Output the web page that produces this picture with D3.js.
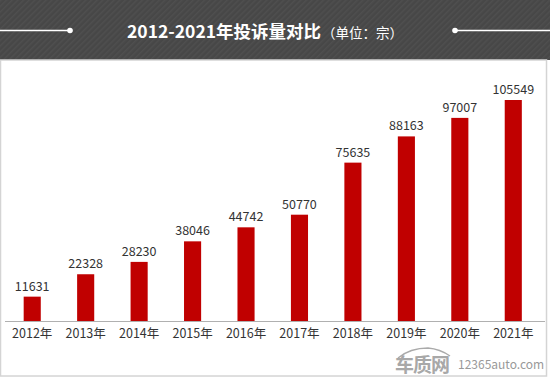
<!DOCTYPE html>
<html><head><meta charset="utf-8">
<script src="https://cdn.jsdelivr.net/npm/d3@7"></script>
<style>html,body{margin:0;padding:0;background:#fff;}svg{display:block;}</style>
</head><body>
<svg id="c" width="550" height="377"></svg>
<script>
const years = ["2012年","2013年","2014年","2015年","2016年","2017年","2018年","2019年","2020年","2021年"];
const complaints = [11631,22328,28230,38046,44742,50770,75635,88163,97007,105549];
const titleMain = "2012-2021年投诉量对比";
const titleUnit = "（单位：宗）";

const svg = d3.select("#c");
const W = 550, H = 377;
const font = "'Microsoft YaHei','Noto Sans CJK SC','Noto Sans',sans-serif";

// header with diagonal stripes
const defs = svg.append("defs");
const pat = defs.append("pattern").attr("id","stripe").attr("width",4).attr("height",4)
  .attr("patternUnits","userSpaceOnUse").attr("patternTransform","rotate(45)");
pat.append("rect").attr("width",4).attr("height",4).attr("fill","#474747");
pat.append("rect").attr("width",1.5).attr("height",4).attr("fill","#4f4f4f");
svg.append("rect").attr("x",0).attr("y",0).attr("width",W).attr("height",60).attr("fill","url(#stripe)");

// header decorations
svg.append("line").attr("x1",0).attr("x2",70).attr("y1",30.5).attr("y2",30.5).attr("stroke","#fff").attr("stroke-width",1.5);
svg.append("circle").attr("cx",70).attr("cy",30.5).attr("r",2.8).attr("fill","#fff");
svg.append("line").attr("x1",455).attr("x2",550).attr("y1",30.5).attr("y2",30.5).attr("stroke","#fff").attr("stroke-width",1.5);
svg.append("circle").attr("cx",455).attr("cy",30.5).attr("r",2.8).attr("fill","#fff");

const title = svg.append("text").attr("x",127).attr("y",37.5).attr("text-anchor","start")
  .attr("font-family",font).attr("fill","#fff");
title.append("tspan").attr("font-size",17.5).attr("font-weight","bold").text(titleMain);
title.append("tspan").attr("font-size",13.5).attr("dx",1).text(titleUnit);

// frame
svg.append("rect").attr("x",0.5).attr("y",60).attr("width",546).attr("height",316)
  .attr("fill","#fff").attr("stroke","#d4d4d4").attr("stroke-width",1.5);

// scales
const x = d3.scaleBand().domain(years).range([5.5,540]).paddingInner(0.68).paddingOuter(0.34);
const base = 321;
const y = d3.scaleLinear().domain([0,105549]).range([base,100]);

svg.selectAll("rect.bar").data(complaints).join("rect").attr("class","bar")
  .attr("x",(d,i)=>x(years[i])).attr("width",x.bandwidth())
  .attr("y",d=>y(d)).attr("height",d=>base-y(d)).attr("fill","#c00000");

svg.selectAll("text.val").data(complaints).join("text").attr("class","val")
  .attr("x",(d,i)=>x(years[i])+x.bandwidth()/2).attr("y",d=>y(d)-6)
  .attr("text-anchor","middle").attr("font-family",font).attr("font-size",12.5).attr("fill","#333")
  .text(d=>d);

const axis = d3.axisBottom(x).tickSize(0).tickPadding(8);
const gx = svg.append("g").attr("transform",`translate(0,${base})`).call(axis);
gx.select(".domain").attr("d","M5,0.5H545").attr("stroke","#b0b0b0");
gx.selectAll("text").attr("font-family",font).attr("font-size",12.5).attr("fill","#333");

// watermark
svg.append("path").attr("d","M398,358 Q410,348 428,348 Q440,349 450,356")
  .attr("fill","none").attr("stroke","#aaa").attr("stroke-width",1.5);
svg.append("text").attr("x",395).attr("y",372).attr("font-family",font).attr("font-size",19)
  .attr("font-weight","bold").attr("fill","#a8a8a8").attr("letter-spacing",-1).text("车质网");
svg.append("text").attr("x",458).attr("y",369).attr("font-family",font).attr("font-size",12)
  .attr("fill","#999").text("12365auto.com");
</script>
</body></html>
